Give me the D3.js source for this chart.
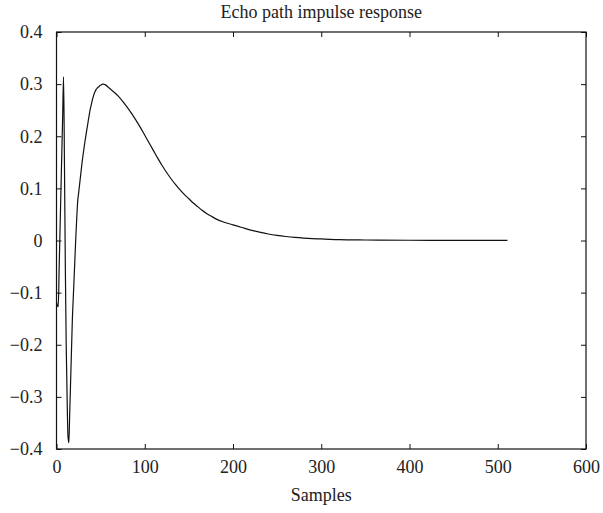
<!DOCTYPE html>
<html>
<head>
<meta charset="utf-8">
<script src="https://cdn.jsdelivr.net/npm/d3@7"></script>
<style>
  html, body { margin: 0; padding: 0; background: #fff; }
  svg text { font-family: "Liberation Serif", "DejaVu Serif", serif; fill: #222; }
</style>
</head>
<body>
<div id="chart"></div>
<script>
// values
const sampleIdx = [0, 1, 2, 3, 4, 5, 6, 7, 8, 9, 10, 11, 12, 13, 14, 15, 16, 17, 18, 19, 20,
  21, 22, 23, 24, 25, 26, 27, 28, 29, 30, 31, 32, 33, 34, 35, 36, 37, 38, 39, 40,
  41, 42, 43, 44, 45, 46, 47, 48, 49, 50, 51, 52, 53, 55, 60, 65, 70, 75, 80, 85,
  90, 95, 100, 105, 110, 115, 120, 125, 130, 135, 140, 145, 150, 155, 160, 165, 170,
  175, 180, 190, 200, 210, 220, 230, 240, 250, 260, 270, 280, 290, 300, 310, 320,
  350, 400, 450, 511];
const response = [-0.118, -0.125, -0.127, -0.053, 0.02, 0.094, 0.167, 0.24, 0.314, 0.15, -0.05,
  -0.2, -0.3, -0.375, -0.388, -0.33, -0.27, -0.21, -0.15, -0.11, -0.07,
  -0.03, 0.01, 0.045, 0.075, 0.09, 0.105, 0.12, 0.135, 0.15, 0.163, 0.175, 0.187, 0.198, 0.209, 0.219,
  0.23, 0.24, 0.25, 0.258, 0.265, 0.272, 0.278, 0.283, 0.287, 0.29, 0.292, 0.294, 0.295, 0.297, 0.298,
  0.299, 0.3, 0.3, 0.299, 0.292, 0.285, 0.277, 0.267, 0.256, 0.244,
  0.231, 0.217, 0.202, 0.187, 0.172, 0.157, 0.143, 0.130, 0.118, 0.107, 0.097, 0.088, 0.080, 0.072,
  0.065, 0.058, 0.052, 0.047, 0.042, 0.035, 0.030, 0.025, 0.020, 0.016, 0.0125, 0.0098, 0.0077, 0.006,
  0.0047, 0.0037, 0.003, 0.0022, 0.0016, 0.001, 0.0005, 0.0003, 0.0002];
const xTicks = [0, 100, 200, 300, 400, 500, 600];
const yTicks = [-0.4, -0.3, -0.2, -0.1, 0, 0.1, 0.2, 0.3, 0.4];

const width = 603, height = 513;
const margin = { top: 32, right: 17, bottom: 64, left: 56.5 };
const w = width - margin.left - margin.right,
      h = height - margin.top - margin.bottom;

const svg = d3.select('#chart').append('svg')
    .attr('width', width)
    .attr('height', height);
const g = svg.append('g')
    .attr('transform', `translate(${margin.left},${margin.top})`);

const x = d3.scaleLinear().domain([0, 600]).range([0, w]);
const y = d3.scaleLinear().domain([-0.4, 0.4]).range([h, 0]);

const fmtY = d => d === 0 ? '0' : d3.format('.1f')(d);
const tick = 5;

// axes, ticks pointing inward on all four sides
const axisStyle = sel => {
  sel.select('.domain').remove();
  sel.selectAll('.tick line').attr('stroke', '#111');
  sel.selectAll('.tick text')
    .style('font-size', '18px')
    .style('font-family', '"Liberation Serif", "DejaVu Serif", serif');
};

g.append('g')
    .attr('transform', `translate(0,${h})`)
    .call(d3.axisBottom(x).tickValues(xTicks).tickSizeInner(-tick).tickPadding(11))
    .call(axisStyle);
g.append('g')
    .call(d3.axisTop(x).tickValues(xTicks).tickSizeInner(-tick).tickFormat(''))
    .call(axisStyle);
g.append('g')
    .call(d3.axisLeft(y).tickValues(yTicks).tickSizeInner(-tick).tickPadding(14).tickFormat(fmtY))
    .call(axisStyle);
g.append('g')
    .attr('transform', `translate(${w},0)`)
    .call(d3.axisRight(y).tickValues(yTicks).tickSizeInner(-tick).tickFormat(''))
    .call(axisStyle);

g.append('rect')
    .attr('width', w).attr('height', h)
    .attr('fill', 'none')
    .attr('stroke', '#111')
    .attr('stroke-width', 1.2);

const pts = sampleIdx.map((s, i) => [s, response[i]]);
const line = d3.line()
    .x(d => x(d[0]))
    .y(d => y(d[1]))
    .curve(d3.curveMonotoneX);

g.append('path')
    .datum(pts)
    .attr('d', line)
    .attr('fill', 'none')
    .attr('stroke', '#111')
    .attr('stroke-width', 1.2)
    .attr('stroke-linejoin', 'round');

// title and axis label
svg.append('text')
    .attr('x', margin.left + w / 2)
    .attr('y', 18)
    .attr('text-anchor', 'middle')
    .style('font-size', '18px')
    .text('Echo path impulse response');
svg.append('text')
    .attr('x', margin.left + w / 2)
    .attr('y', 501)
    .attr('text-anchor', 'middle')
    .style('font-size', '18px')
    .text('Samples');
</script>
</body>
</html>
